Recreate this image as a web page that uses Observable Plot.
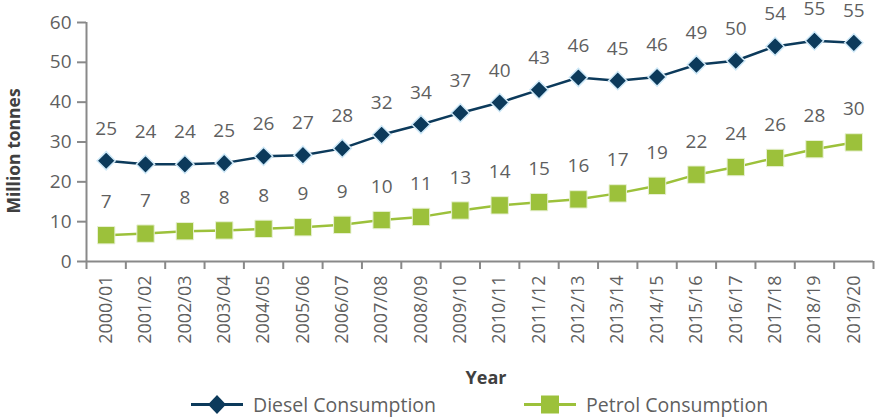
<!DOCTYPE html>
<html><head><meta charset="utf-8">
<script src="https://cdn.jsdelivr.net/npm/d3@7"></script>
<script src="https://cdn.jsdelivr.net/npm/@observablehq/plot@0.6"></script>
<style>
body{margin:0;background:#fff;font-family:"Open Sans",sans-serif;}
#wrap{position:relative;width:878px;height:419px;overflow:hidden;}
#legend{position:absolute;left:0;top:390px;width:878px;height:29px;}
.item{position:absolute;top:0;height:29px;display:flex;align-items:center;font-size:19.5px;color:#5f5f5f;white-space:nowrap;}
.item svg{display:block;margin-right:10px;}
</style></head><body>
<div id="wrap"><div id="chart"></div><div id="legend"></div></div>
<script>
const years = ["2000/01","2001/02","2002/03","2003/04","2004/05","2005/06","2006/07","2007/08","2008/09","2009/10","2010/11","2011/12","2012/13","2013/14","2014/15","2015/16","2016/17","2017/18","2018/19","2019/20"];
const diesel = [25.3,24.4,24.4,24.7,26.4,26.7,28.4,31.8,34.4,37.3,39.9,43.1,46.2,45.4,46.3,49.4,50.4,54.0,55.4,54.9];
const petrol = [6.6,7.0,7.6,7.8,8.2,8.6,9.2,10.4,11.2,12.8,14.1,14.9,15.6,17.1,19.0,21.8,23.7,26.0,28.2,29.9];
const seriesNames = ["Diesel Consumption","Petrol Consumption"];
const seriesColors = ["#0c3a5b","#9cc13b"];
const yTicks = [0,10,20,30,40,50,60];
const yLabel = "Million tonnes";
const xLabel = "Year";

const rows = years.map((y,i)=>({i:i+0.5, year:y, diesel:diesel[i], petrol:petrol[i]}));
const axisColor = "#898989";
const textColor = "#5f5f5f";

const plot = Plot.plot({
  width:878, height:390,
  marginTop:22, marginBottom:129, marginLeft:86, marginRight:5,
  style:{fontFamily:"'Open Sans',sans-serif", fontSize:"18px", color:textColor, background:"white", overflow:"visible"},
  x:{type:"linear", domain:[0, years.length]},
  y:{domain:[0,60]},
  marks:[
    Plot.axisY({ticks:yTicks, tickSize:9, tickPadding:6, stroke:axisColor, strokeWidth:2, fill:textColor, fontSize:19, label:null}),
    Plot.axisX({ticks:d3.range(years.length+1), tickSize:8, stroke:axisColor, strokeWidth:2, tickFormat:()=>"", label:null}),
    Plot.axisX({ticks:rows.map(d=>d.i), tickSize:0, tickPadding:14, tickRotate:-90, fill:textColor, fontSize:18, tickFormat:v=>years[Math.round(v-0.5)], label:null}),
    Plot.ruleY([0], {stroke:axisColor, strokeWidth:2}),
    Plot.ruleX([0], {stroke:axisColor, strokeWidth:2}),
    Plot.text([yLabel], {frameAnchor:"left", textAnchor:"middle", lineAnchor:"middle", rotate:-90, dx:-72, dy:9, fontWeight:"bold", fontSize:17.5, fill:"#404040"}),
    Plot.text([xLabel], {frameAnchor:"bottom", lineAnchor:"middle", dx:6, dy:117, fontWeight:"bold", fontSize:18, fill:"#404040"}),
    Plot.line(rows, {x:"i", y:"diesel", stroke:seriesColors[0], strokeWidth:2.5}),
    Plot.line(rows, {x:"i", y:"petrol", stroke:seriesColors[1], strokeWidth:2.5}),
    Plot.dot(rows, {x:"i", y:"diesel", symbol:"diamond2", r:8.2, fill:seriesColors[0], stroke:"#cfe9f8", strokeWidth:1.5}),
    Plot.dot(rows, {x:"i", y:"petrol", symbol:"square", r:9.8, fill:seriesColors[1], stroke:"#e8f1d4", strokeWidth:1}),
    Plot.text(rows, {x:"i", y:"diesel", text:d=>d3.format(".0f")(d.diesel), dy:-32, fontSize:19, fill:textColor}),
    Plot.text(rows, {x:"i", y:"petrol", text:d=>d3.format(".0f")(d.petrol), dy:-33, fontSize:19, fill:textColor})
  ]
});
document.getElementById("chart").appendChild(plot);

const legend = document.getElementById("legend");
const legendX = [191, 524];
const symbols = ["diamond","square"];
seriesNames.forEach((name,k)=>{
  const div = document.createElement("div");
  div.className = "item";
  div.style.left = legendX[k]+"px";
  const marker = symbols[k]==="diamond"
    ? `<polygon points="26,5 35,14.5 26,24 17,14.5" fill="${seriesColors[k]}"/>`
    : `<rect x="17" y="5.5" width="18" height="18" fill="${seriesColors[k]}"/>`;
  div.innerHTML = `<svg width="52" height="29"><line x1="0" x2="52" y1="14.5" y2="14.5" stroke="${seriesColors[k]}" stroke-width="3"/>${marker}</svg><span>${name}</span>`;
  legend.appendChild(div);
});
</script>
</body></html>
